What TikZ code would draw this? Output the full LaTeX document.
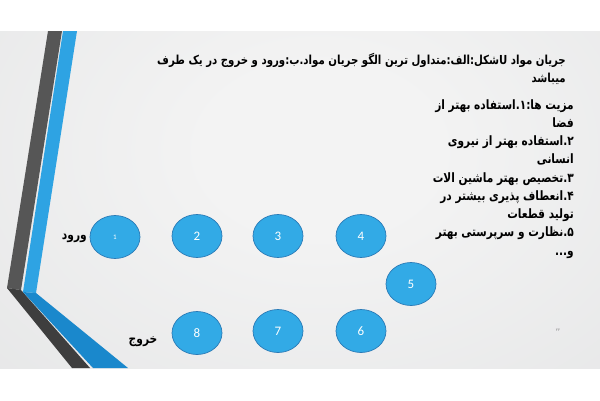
\documentclass[tikz,border=0pt]{standalone}
\usepackage{fontspec}
\usetikzlibrary{shapes.geometric}
\TeXXeTstate=1
\newfontfamily\arabicfont[Script=Arabic]{DejaVu Sans}
\newfontfamily\arabicnarrow[Script=Arabic, FakeStretch=0.82]{DejaVu Sans}
\newfontfamily\numfont{Carlito}
\definecolor{bgin}{RGB}{243,243,243}
\definecolor{bgmid}{RGB}{224,225,226}
\definecolor{bgout}{RGB}{196,199,201}
\definecolor{grayup}{RGB}{86,86,86}
\definecolor{graylow}{RGB}{62,62,62}
\definecolor{blueup}{RGB}{46,163,227}
\definecolor{bluelow}{RGB}{26,136,204}
\definecolor{cfill}{RGB}{50,170,230}
\definecolor{cline}{RGB}{42,122,182}
\pgfdeclareradialshading{slidebg}{\pgfpoint{0bp}{0bp}}{color(0bp)=(bgin); color(8bp)=(bgin); color(45bp)=(bgmid); color(72bp)=(bgout)}
\tikzset{
  station/.style={ellipse, draw=cline, line width=0.7pt, fill=cfill, minimum width=50pt, minimum height=43pt, inner sep=0pt, text=white, font=\numfont\fontsize{13}{13}\selectfont},
  lbl/.style={font=\arabicnarrow\bfseries\fontsize{13}{14}\selectfont, inner sep=0pt},
}
\begin{document}
\begin{tikzpicture}[x=1pt,y=-1pt]
\useasboundingbox (0,0) rectangle (600,400);
\fill[white] (0,0) rectangle (600,400);
\begin{scope}
\clip (0,31) rectangle (600,368);
\shade[shading=slidebg] (-40,-110) rectangle (680,410);
\end{scope}
% left decoration
\fill[grayup] (48,31) -- (62,31) -- (21,290) -- (7,288) -- cycle;
\fill[graylow] (7,288) -- (21,290) -- (90,368) -- (72,368) -- cycle;
\fill[blueup] (63,31) -- (77,31) -- (36,293) -- (23,292) -- cycle;
\fill[bluelow] (23,292) -- (36,293) -- (128,368) -- (93,368) -- cycle;
% title
\node[anchor=east, align=right, inner sep=0pt, font=\arabicnarrow\bfseries\fontsize{12.4}{18}\selectfont] (title) at (566,69)
  {\beginR جریان مواد \beginL U\endL{}شکل:الف:متداول ترین الگو جریان مواد.ب:ورود و خروج در یک طرف\endR\\
   \beginR میباشد\endR};
% body
\node[anchor=north east, align=right, inner sep=0pt, font=\arabicnarrow\bfseries\fontsize{12.9}{18.25}\selectfont] (body) at (574,99)
  {\beginR مزیت ها:۱.استفاده بهتر از\endR\\
   \beginR فضا\endR\\
   \beginR ۲.استفاده بهتر از نیروی\endR\\
   \beginR انسانی\endR\\
   \beginR ۳.تخصیص بهتر ماشین الات\endR\\
   \beginR ۴.انعطاف پذیری بیشتر در\endR\\
   \beginR تولید قطعات\endR\\
   \beginR ۵.نظارت و سرپرستی بهتر\endR\\
   \beginR و...\endR};
% stations
\node[station, font=\numfont\fontsize{7}{7}\selectfont] (c1) at (115,237) {1};
\node[station] (c2) at (197,236) {2};
\node[station] (c3) at (278,236) {3};
\node[station] (c4) at (361,236) {4};
\node[station] (c5) at (411,284) {5};
\node[station] (c6) at (361,331) {6};
\node[station] (c7) at (278,331) {7};
\node[station] (c8) at (197,333) {8};
% labels
\node[lbl, anchor=east] (in) at (87,238) {\beginR ورود\endR};
\node[lbl] (out) at (143,342) {\beginR خروج\endR};
\node[inner sep=0pt, text=gray, font=\arabicfont\fontsize{4}{4}\selectfont] (pg) at (558,330) {\beginR ۲۲\endR};
\end{tikzpicture}
\end{document}
